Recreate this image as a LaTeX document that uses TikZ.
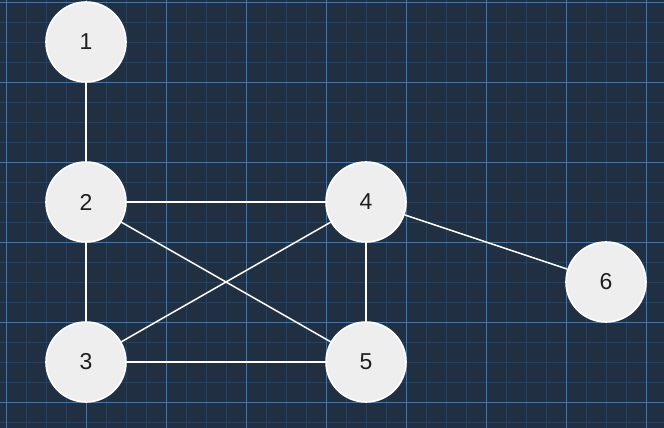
\documentclass[tikz,border=0pt]{standalone}
\usepackage{fontspec}
\setmainfont{Liberation Sans}
\definecolor{bgc}{RGB}{32,48,66}
\definecolor{minorc}{RGB}{40,64,89}
\definecolor{majorc}{RGB}{72,118,163}
\definecolor{nodefill}{RGB}{238,238,238}
\definecolor{txt}{RGB}{30,30,30}
\begin{document}
\begin{tikzpicture}[x=1pt,y=-1pt,
  vertex/.style={circle,draw=white,line width=1.6pt,fill=nodefill,minimum size=80pt,inner sep=0pt,text=txt,font=\fontsize{23}{23}\selectfont},
  edge/.style={draw=white,line width=1.5pt}]
\fill[bgc] (0,0) rectangle (664,428);
\useasboundingbox (0,0) rectangle (664,428);
\begin{scope}
\clip (0,0) rectangle (664,428);
\foreach \x in {0,...,34} {\draw[minorc,line width=1.8pt] ({6.5+20*\x},0) -- ({6.5+20*\x},428);}
\foreach \y in {0,...,22} {\draw[minorc,line width=1.8pt] (0,{2.5+20*\y}) -- (664,{2.5+20*\y});}
\foreach \x in {0,...,8} {\draw[majorc,line width=1.2pt] ({6.5+80*\x},0) -- ({6.5+80*\x},428);}
\foreach \y in {0,...,5} {\draw[majorc,line width=1.2pt] (0,{2.5+80*\y}) -- (664,{2.5+80*\y});}
\end{scope}
\node[vertex] (n1) at (86,42) {1};
\node[vertex] (n2) at (86,202) {2};
\node[vertex] (n3) at (86,362) {3};
\node[vertex] (n4) at (366,202) {4};
\node[vertex] (n5) at (366,362) {5};
\node[vertex] (n6) at (606,282) {6};
\draw[edge] (n1) -- (n2);
\draw[edge] (n2) -- (n4);
\draw[edge] (n2) -- (n5);
\draw[edge] (n2) -- (n3);
\draw[edge] (n3) -- (n4);
\draw[edge] (n3) -- (n5);
\draw[edge] (n4) -- (n5);
\draw[edge] (n4) -- (n6);
\end{tikzpicture}
\end{document}
